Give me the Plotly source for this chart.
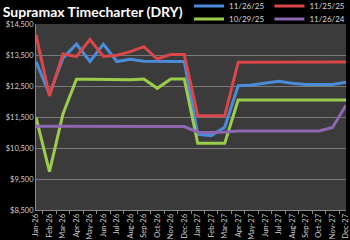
import plotly.graph_objects as go

months = ["Jan-26", "Feb-26", "Mar-26", "Apr-26", "May-26", "Jun-26", "Jul-26", "Aug-26",
          "Sep-26", "Oct-26", "Nov-26", "Dec-26", "Jan-27", "Feb-27", "Mar-27", "Apr-27",
          "May-27", "Jun-27", "Jul-27", "Aug-27", "Sep-27", "Oct-27", "Nov-27", "Dec-27"]

s_112625 = [13290, 12240, 13400, 13850, 13290, 13850, 13290, 13360, 13300, 13290, 13290, 13290,
            10940, 10900, 11170, 12510, 12530, 12590, 12650, 12590, 12550, 12550, 12550, 12620]
s_112525 = [14150, 12180, 13530, 13450, 14000, 13450, 13490, 13610, 13770, 13370, 13520, 13520,
            11540, 11540, 11540, 13265, 13265, 13270, 13275, 13275, 13275, 13275, 13275, 13275]
s_102925 = [11490, 9740, 11600, 12715, 12715, 12715, 12695, 12700, 12725, 12425, 12725, 12725,
            10650, 10650, 10650, 12050, 12050, 12050, 12050, 12050, 12050, 12050, 12050, 12050]
s_112624 = [11200, 11200, 11200, 11200, 11200, 11200, 11200, 11200, 11200, 11200, 11200, 11190,
            11010, 11000, 11015, 11050, 11050, 11050, 11050, 11050, 11050, 11050, 11160, 11880]

y_ticks = [8500, 9500, 10500, 11500, 12500, 13500, 14500]
y_labels = ["$8,500", "$9,500", "$10,500", "$11,500", "$12,500", "$13,500", "$14,500"]

FONT = "Lato"
fig = go.Figure()
series = [
    ("11/26/25", s_112625, "#4a8cd8", "legend"),
    ("11/25/25", s_112525, "#d9474b", "legend"),
    ("10/29/25", s_102925, "#9ccc4c", "legend2"),
    ("11/26/24", s_112624, "#8e67b3", "legend2"),
]
for name, vals, col, lg in series:
    fig.add_trace(go.Scatter(x=months, y=vals, name=name, mode="lines",
                             line=dict(color=col, width=3), legend=lg))

fig.update_layout(
    width=350, height=240,
    paper_bgcolor="#000000", plot_bgcolor="#3b3b3b",
    margin=dict(l=36, r=4, t=24, b=30, autoexpand=False),
    font=dict(family=FONT, color="#d0d0d0", size=8),
    title=dict(text="<b>Supramax Timecharter (DRY)</b>", x=0.008, xanchor="left",
               xref="container", y=0.95, yref="container", yanchor="middle",
               font=dict(family=FONT, size=14, color="#ffffff")),
    showlegend=True,
    legend=dict(orientation="h", xref="container", yref="container", x=1.0, xanchor="right",
                y=0.975, yanchor="middle", bgcolor="rgba(0,0,0,0)", itemwidth=30,
                font=dict(size=8, color="#d9d9d9"), traceorder="normal"),
    legend2=dict(orientation="h", xref="container", yref="container", x=1.0, xanchor="right",
                 y=0.921, yanchor="middle", bgcolor="rgba(0,0,0,0)", itemwidth=30,
                 font=dict(size=8, color="#d9d9d9"), traceorder="normal"),
    xaxis=dict(type="category", tickangle=-90, showgrid=False, showline=True,
               linecolor="#8a8a8a", linewidth=1, ticks="outside", ticklen=3,
               tickcolor="#8a8a8a", tickson="boundaries", tickfont=dict(size=7.5),
               fixedrange=True),
    yaxis=dict(range=[8500, 14500], tickvals=y_ticks, ticktext=y_labels, showgrid=True,
               gridcolor="#7a7a7a", gridwidth=1, showline=True, linecolor="#8a8a8a",
               zeroline=False, tickfont=dict(size=7.5), ticks="", fixedrange=True),
)
fig.write_html("out.html")
